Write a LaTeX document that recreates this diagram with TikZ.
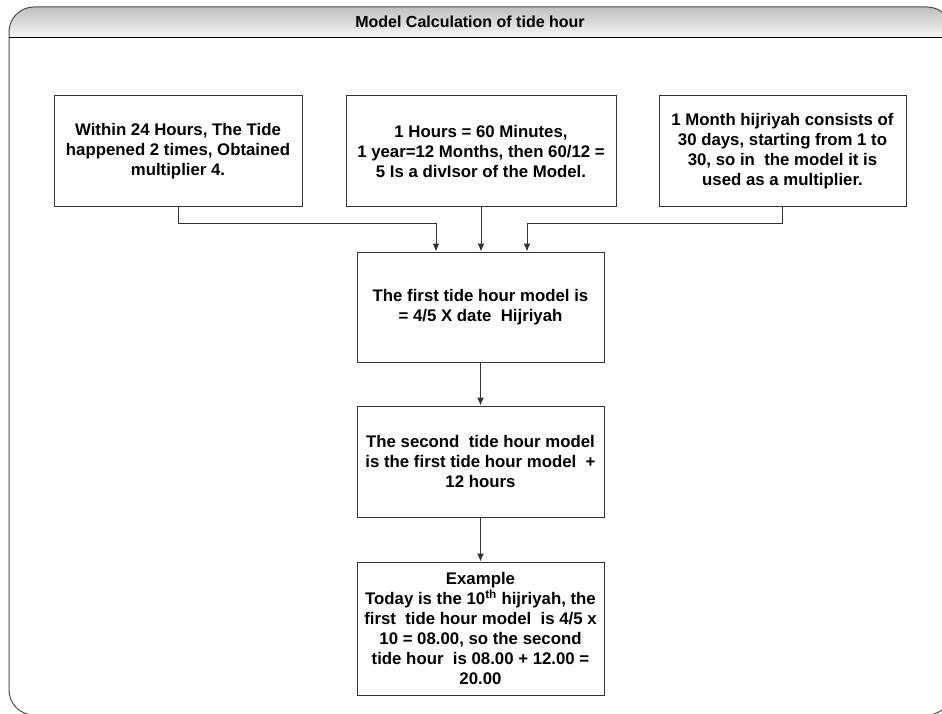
\documentclass[tikz,border=0pt]{standalone}
\usepackage{fontspec}
\setmainfont{Liberation Sans}
\usetikzlibrary{arrows.meta}
\tikzset{
  box/.style={draw=black!80, line width=1pt, fill=white, align=center, inner sep=1pt,
    font=\bfseries\fontsize{16.8}{20}\selectfont},
  conn/.style={draw=black!80, line width=1pt, -{Latex[length=8pt,width=7pt]}},
  frame/.style={draw=black!70, line width=1pt, rounded corners=25pt}
}
\begin{document}
\begin{tikzpicture}[x=1pt,y=-1pt]
\useasboundingbox (0,0) rectangle (942,714);
\clip (0,0) rectangle (942,714);
% frame and title band
\begin{scope}
  \clip[rounded corners=25pt] (9,7) rectangle (952,715);
  \shade[top color=black!25, bottom color=black!3] (9,7) rectangle (952,38);
\end{scope}
\draw[frame] (9,7) rectangle (952,715);
\draw[black, line width=1pt] (9,38) -- (952,38);
\node[font=\bfseries\fontsize{16}{19}\selectfont] (title) at (470,22) {Model Calculation of tide hour};
% boxes
\node[box, minimum width=248pt, minimum height=111pt] (A) at (178,151.5)
  {Within 24 Hours, The Tide\\happened 2 times, Obtained\\multiplier 4.};
\node[box, minimum width=270pt, minimum height=111pt] (B) at (481,151.5)
  {1 Hours = 60 Minutes,\\1 year=12 Months, then 60/12 =\\5 Is a divIsor of the Model.};
\node[box, minimum width=247pt, minimum height=111pt] (C) at (782.5,151.5)
  {1 Month hijriyah consists of\\30 days, starting from 1 to\\30, so in\ \ the model it is\\used as a multiplier.};
\node[box, minimum width=247pt, minimum height=110pt] (D) at (480.5,307)
  {The first tide hour model is\\= 4/5 X date\ \ Hijriyah};
\node[box, minimum width=247pt, minimum height=111pt] (E) at (480.5,461.5)
  {The second\ \ tide hour model\\is the first tide hour model\ \ +\\12 hours};
\node[box, minimum width=247pt, minimum height=133pt] (F) at (480.5,628.5)
  {Example\\Today is the 10\textsuperscript{th} hijriyah, the\\first\ \ tide hour model\ \ is 4/5 x\\10 = 08.00, so the second\\tide hour\ \ is 08.00 + 12.00 =\\20.00};
% connectors
\draw[conn] (A.south) -- ++(0,16) -| ([xshift=-44.5pt]D.north);
\draw[conn] (B.south) -- (B.south |- D.north);
\draw[conn] (C.south) -- ++(0,16) -| ([xshift=46.5pt]D.north);
\draw[conn] (D.south) -- (E.north);
\draw[conn] (E.south) -- (F.north);
\end{tikzpicture}
\end{document}
